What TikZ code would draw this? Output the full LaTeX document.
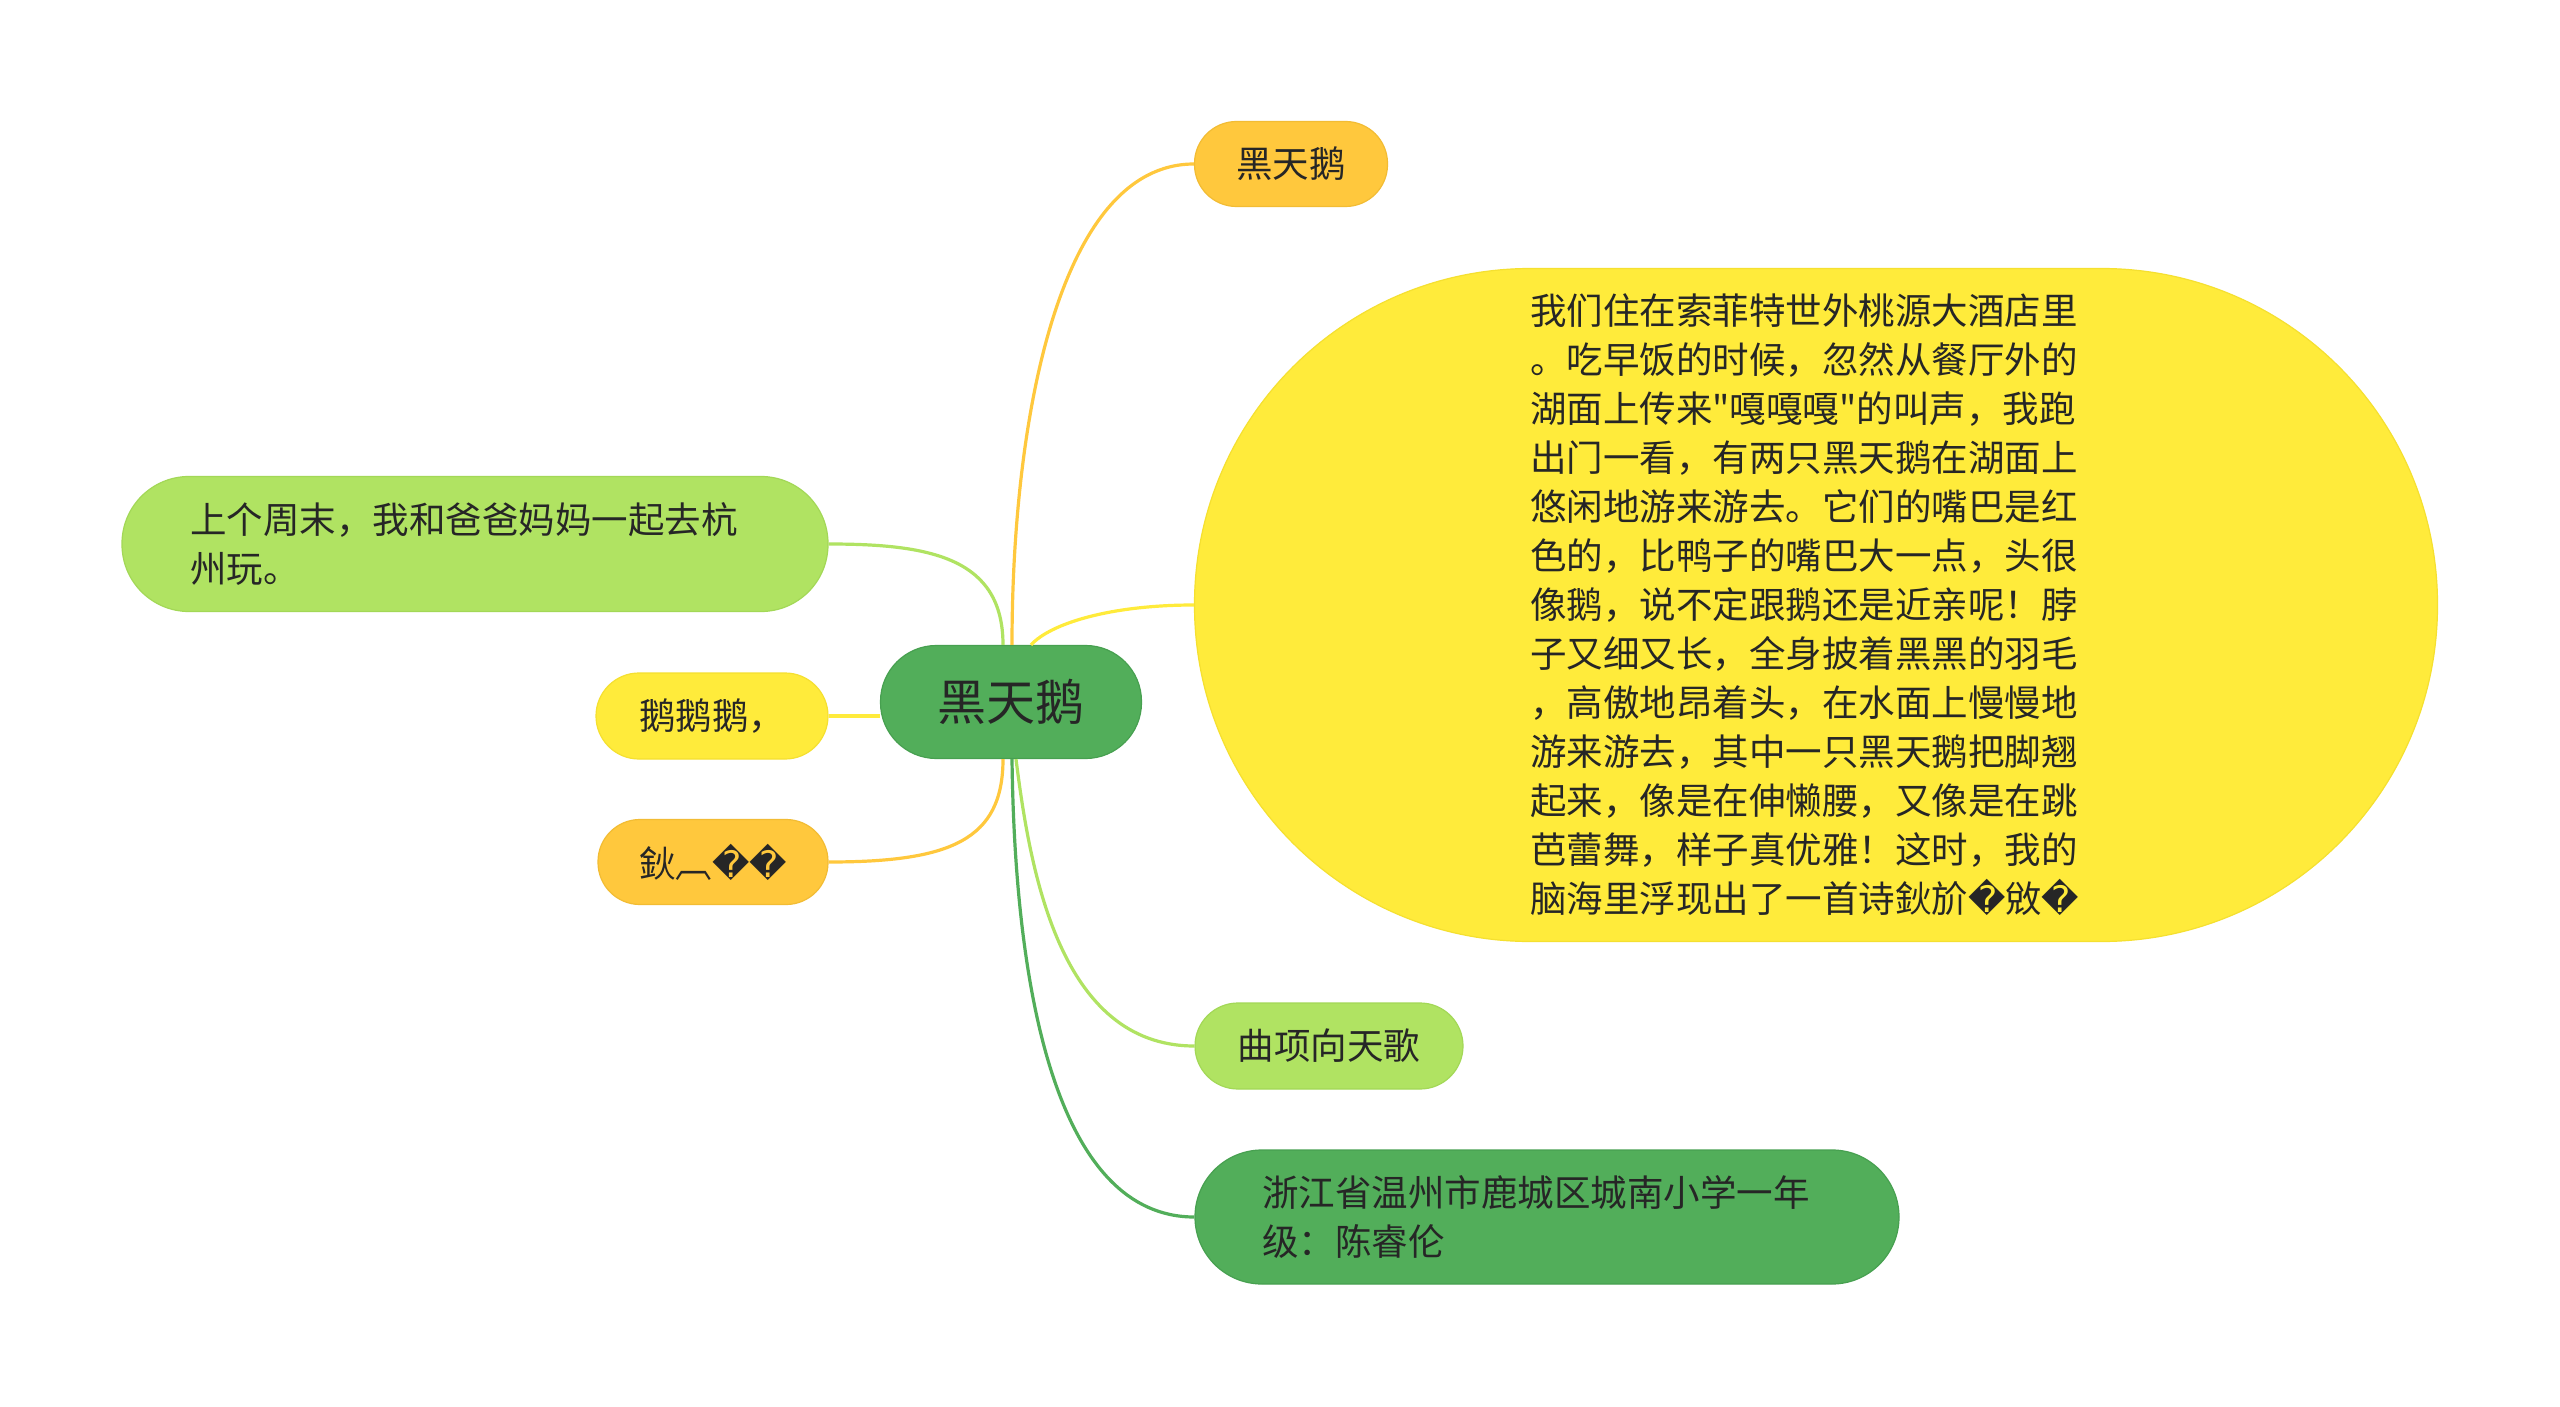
\documentclass[tikz,border=0pt]{standalone}
\usepackage{fontspec}
\setmainfont{Noto Sans CJK SC}[Ligatures=TeXOff]
\newfontfamily\dvs{DejaVu Sans}
\newcommand\rpl{{\dvs\symbol{"FFFD}}}
\definecolor{cgreen}{HTML}{52AE5A}
\definecolor{cgreenD}{HTML}{47A050}
\definecolor{clight}{HTML}{B0E362}
\definecolor{clightD}{HTML}{A3D857}
\definecolor{cyel}{HTML}{FFEB3B}
\definecolor{cyelD}{HTML}{F5E030}
\definecolor{corange}{HTML}{FFC83D}
\definecolor{corangeD}{HTML}{F2BC34}
\definecolor{textc}{HTML}{262626}
\begin{document}
\begin{tikzpicture}[x=1pt,y=-1pt,
  box/.style={rectangle, draw, line width=1.2pt, inner sep=0pt, text=textc,
    font=\fontsize{36.5}{49}\selectfont, align=left},
  conn/.style={line width=3.2pt}
]
\useasboundingbox[fill=white] (0,0) rectangle (2560,1407);

% nodes
\node[box, fill=cgreen, draw=cgreenD, minimum width=261pt, minimum height=113pt,
      rounded corners=56pt, font=\fontsize{49}{56}\selectfont] (c) at (1011,702) {黑天鹅};
\node[box, fill=corange, draw=corangeD, minimum width=193pt, minimum height=85pt,
      rounded corners=42pt] (top) at (1291,164) {黑天鹅};
\node[box, fill=cyel, draw=cyelD, minimum width=1243pt, minimum height=673pt,
      rounded corners=336pt, text width=572pt] (big) at (1816,605) {我们住在索菲特世外桃源大酒店里\\
。吃早饭的时候，忽然从餐厅外的\\
湖面上传来"嘎嘎嘎"的叫声，我跑\\
出门一看，有两只黑天鹅在湖面上\\
悠闲地游来游去。它们的嘴巴是红\\
色的，比鸭子的嘴巴大一点，头很\\
像鹅，说不定跟鹅还是近亲呢！脖\\
子又细又长，全身披着黑黑的羽毛\\
，高傲地昂着头，在水面上慢慢地\\
游来游去，其中一只黑天鹅把脚翘\\
起来，像是在伸懒腰，又像是在跳\\
芭蕾舞，样子真优雅！这时，我的\\
脑海里浮现出了一首诗鈥斺\rpl 敓\rpl};
\node[box, fill=clight, draw=clightD, minimum width=706pt, minimum height=135pt,
      rounded corners=67pt, text width=570pt] (l1) at (475,544) {上个周末，我和爸爸妈妈一起去杭\\州玩。};
\node[box, fill=cyel, draw=cyelD, minimum width=232pt, minimum height=86pt,
      rounded corners=43pt] (l2) at (712,716) {鹅鹅鹅，};
\node[box, fill=corange, draw=corangeD, minimum width=230pt, minimum height=85pt,
      rounded corners=42pt] (l3) at (713,862) {鈥︹\rpl\rpl};
\node[box, fill=clight, draw=clightD, minimum width=268pt, minimum height=86pt,
      rounded corners=43pt] (r1) at (1329,1046) {曲项向天歌};
\node[box, fill=cgreen, draw=cgreenD, minimum width=704pt, minimum height=134pt,
      rounded corners=67pt, text width=570pt] (bot) at (1547,1217) {浙江省温州市鹿城区城南小学一年\\级：陈睿伦};

% connectors
\draw[conn, corange] ([xshift=1pt]c.north) .. controls +(0,-225) and +(-135,0) .. (top.west);
\draw[conn, cyel] ([xshift=20pt]c.north) .. controls +(19,-21) and +(-85,0) .. (big.west);
\draw[conn, clight] ([xshift=-8pt]c.north) .. controls +(0,-87) and +(102,0) .. (l1.east);
\draw[conn, cyel] (l2.east) -- (l2.east -| c.west);
\draw[conn, corange] ([xshift=-8pt]c.south) .. controls +(0,81) and +(122,0) .. (l3.east);
\draw[conn, clight] ([xshift=5pt]c.south) .. controls +(14,111) and +(-135,0) .. (r1.west);
\draw[conn, cgreen] ([xshift=1pt]c.south) .. controls +(3,241) and +(-135,0) .. (bot.west);
\end{tikzpicture}
\end{document}
